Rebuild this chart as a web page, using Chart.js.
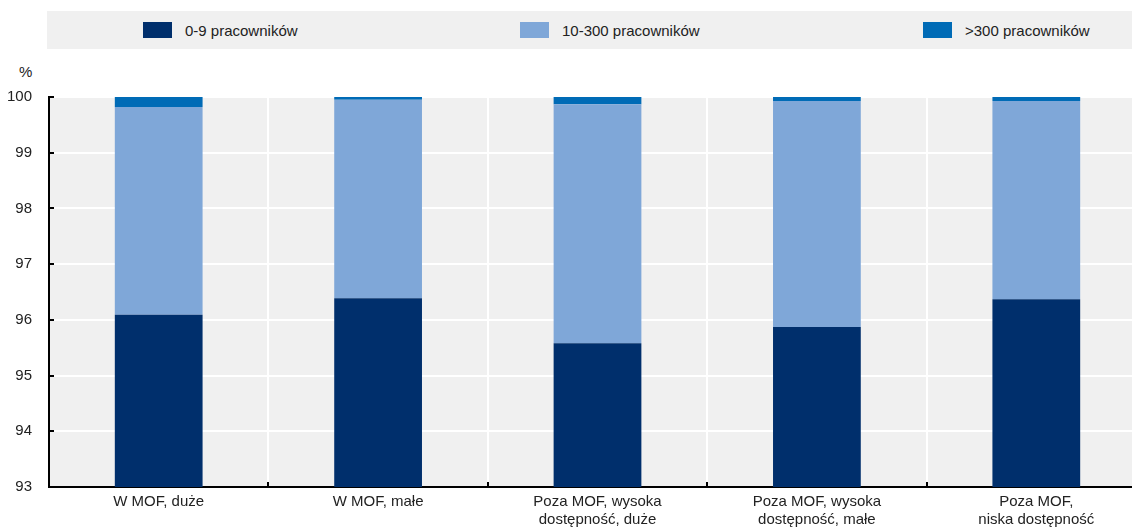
<!DOCTYPE html>
<html>
<head>
<meta charset="utf-8">
<script src="https://cdn.jsdelivr.net/npm/chart.js@4"></script>
<style>
  html, body { margin: 0; padding: 0; background: #fff; overflow: hidden; }
  body { width: 1132px; height: 531px; position: relative; font-family: "Liberation Sans", Arial, sans-serif; }
  #legend { position: absolute; left: 47px; top: 11px; width: 1100px; height: 38px; background: #f0f0f0; }
  .item { position: absolute; top: 0; height: 38px; display: flex; align-items: center; font-size: 15px; color: #222; }
  .swatch { width: 29px; height: 16px; margin-right: 13px; }
  #unit { position: absolute; left: 19px; top: 63px; font-size: 15px; color: #222; }
  #wrap { position: absolute; left: 0; top: 0; width: 1150px; height: 531px; }
</style>
</head>
<body>
<div id="legend"></div>
<div id="unit">%</div>
<div id="wrap"><canvas id="chart" width="1150" height="531"></canvas></div>
<script>
// kategorie i wartości (udział firm wg liczby pracowników, %)
const categories = [
    'W MOF, duże',
    'W MOF, małe',
    ['Poza MOF, wysoka', 'dostępność, duże'],
    ['Poza MOF, wysoka', 'dostępność, małe'],
    ['Poza MOF,', 'niska dostępność']
];
const seriesNames = ['0-9 pracowników', '10-300 pracowników', '>300 pracowników'];
const seriesColors = ['#002f6c', '#7fa7d8', '#006bb6'];
const micro = [96.09, 96.39, 95.58, 95.87, 96.37];
const medium = [3.73, 3.56, 4.29, 4.06, 3.56];
const large = [0.18, 0.05, 0.13, 0.07, 0.07];
const yTicks = [93, 94, 95, 96, 97, 98, 99, 100];

// legenda w HTML (pozycje jak w oryginale)
const legendLeft = [96, 473, 876];
const legendEl = document.getElementById('legend');
seriesNames.forEach((name, i) => {
    const it = document.createElement('div');
    it.className = 'item';
    it.style.left = legendLeft[i] + 'px';
    it.innerHTML = '<span class="swatch" style="background:' + seriesColors[i] + '"></span><span>' + name + '</span>';
    legendEl.appendChild(it);
});

// szare tło obszaru wykresu + krótkie znaczniki osi do środka
const plotBg = {
    id: 'plotBg',
    beforeDraw(chart) {
        const { ctx, chartArea: a } = chart;
        ctx.save();
        ctx.fillStyle = '#f0f0f0';
        ctx.fillRect(a.left, a.top, a.right - a.left, a.bottom - a.top);
        ctx.restore();
    },
    afterDraw(chart) {
        const { ctx, chartArea: a, scales } = chart;
        ctx.save();
        ctx.strokeStyle = '#000';
        ctx.lineWidth = 2;
        yTicks.forEach(v => {
            const y = Math.round(scales.y.getPixelForValue(v));
            ctx.beginPath();
            ctx.moveTo(a.left, y);
            ctx.lineTo(a.left + 5, y);
            ctx.stroke();
        });
        for (let i = 1; i < categories.length; i++) {
            const x = Math.round((scales.x.getPixelForValue(i - 1) + scales.x.getPixelForValue(i)) / 2);
            ctx.beginPath();
            ctx.moveTo(x, a.bottom);
            ctx.lineTo(x, a.bottom - 5);
            ctx.stroke();
        }
        ctx.restore();
    }
};

const ctx = document.getElementById('chart').getContext('2d');
new Chart(ctx, {
    type: 'bar',
    data: {
        labels: categories,
        datasets: [micro, medium, large].map((d, i) => ({
            label: seriesNames[i],
            data: d,
            backgroundColor: seriesColors[i],
            borderWidth: 0,
            categoryPercentage: 0.4,
            barPercentage: 1
        }))
    },
    options: {
        responsive: false,
        animation: false,
        devicePixelRatio: 1,
        layout: { padding: { top: 97, right: 4, left: 0, bottom: 0 } },
        plugins: { legend: { display: false }, tooltip: { enabled: false } },
        scales: {
            x: {
                stacked: true,
                grid: { color: '#ffffff', lineWidth: 2, drawTicks: false, offset: true },
                border: { color: '#000', width: 2 },
                ticks: {
                    color: '#222',
                    font: { family: 'Liberation Sans', size: 15 },
                    padding: 6,
                    maxRotation: 0,
                    autoSkip: false
                },
                afterFit(scale) { scale.height = 44; }
            },
            y: {
                stacked: true,
                min: 93,
                max: 100,
                grid: { color: '#ffffff', lineWidth: 2, drawTicks: false },
                border: { color: '#000', width: 2 },
                ticks: {
                    stepSize: 1,
                    color: '#222',
                    font: { family: 'Liberation Sans', size: 15 },
                    padding: 17
                },
                afterFit(scale) { scale.width = 49; }
            }
        }
    },
    plugins: [plotBg]
});
</script>
</body>
</html>
